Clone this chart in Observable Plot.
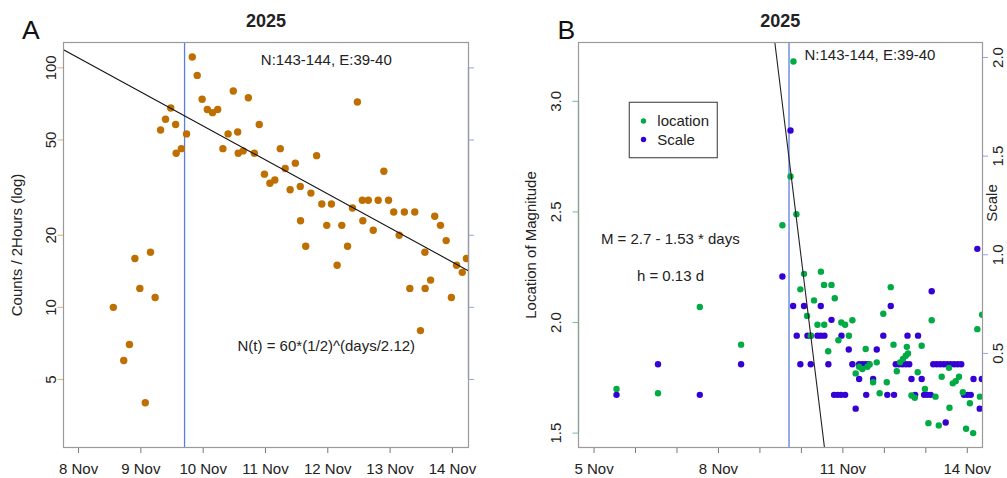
<!DOCTYPE html>
<html><head><meta charset="utf-8">
<script src="https://cdn.jsdelivr.net/npm/d3@7"></script>
<script src="https://cdn.jsdelivr.net/npm/@observablehq/plot@0.6"></script>
<style>
body{margin:0;background:#fff;}
#wrap{position:relative;width:1007px;height:478px;overflow:hidden;background:#fff;}
#a{position:absolute;left:0;top:0;}
#b{position:absolute;left:500px;top:0;}
</style></head><body><div id="wrap"><div id="a"></div><div id="b"></div></div>
<script>
// ---------- Panel A data: counts per 2 hours (hours since 8 Nov 2025 00:00 UTC)
const countHours = [13.4,17.4,19.6,21.7,23.6,25.7,27.7,29.5,31.6,33.5,35.5,37.4,37.6,39.6,41.6,
  43.8,45.7,47.6,49.6,51.6,53.6,55.6,57.6,59.6,61.3,61.5,63.4,65.4,67.7,69.6,71.6,73.7,75.6,77.7,79.6,
  81.5,83.5,85.4,85.5,87.5,89.5,91.7,93.7,95.6,97.4,99.6,101.4,103.6,105.5,107.4,109.3,109.5,111.6,113.5,115.4,
  117.6,119.4,121.4,123.5,125.5,127.6,129.5,131.7,133.4,133.5,135.6,137.2,139.4,141.6,143.6,145.6,147.8,149.4];
const counts = [10,6,7,16,12,4,17,11,55,61,68,58,44,46,53,
  111,93,74,67,65,67,46,53,80,54,44,45,75,44,58,36,33,34,46,38,
  31,40,32,23,18,30,43,27,22,27,15,22,18,26,72,28,23,28,21,28,
  37,28,25,20,25,12,25,8,17,12,13,24,22,19,11,15,14,16];
const countTicks = [100, 50, 20, 10, 5];
const dayLabelsA = ["8 Nov","9 Nov","10 Nov","11 Nov","12 Nov","13 Nov","14 Nov"];

// ---------- Panel B data (hours since 5 Nov 2025 00:00 UTC)
const scaleHours = [13.0,37.0,61.2,85.1,109.0,113.7,115.2,117.3,119.4,121.5,123.5,125.4,125.4,129.3,131.2,131.2,
  133.3,135.6,137.4,138.9,140.9,142.9,143.2,145.3,147.4,149.5,151.4,153.4,153.4,155.3,157.2,157.5,159.1,161.5,
  163.6,167.4,169.7,171.7,173.6,174.6,176.5,178.5,180.5,181.4,182.4,183.7,185.8,187.5,189.6,191.0,192.9,194.8,
  195.4,196.3,198.3,200.3,202.4,203.5,204.4,206.4,208.5,210.5,212.5,214.1,216.1,218.0,219.6,221.8,223.2,224.4];
const scaleValues = [0.29,0.445,0.29,0.445,0.89,1.63,0.74,0.59,0.445,0.74,0.59,0.59,0.445,0.59,0.74,0.59,
  0.59,0.445,0.67,0.29,0.29,0.29,0.59,0.29,0.52,0.445,0.22,0.37,0.445,0.445,0.445,0.29,0.445,0.37,
  0.52,0.59,0.29,0.74,0.29,0.445,0.445,0.445,0.445,0.59,0.445,0.37,0.29,0.59,0.37,0.29,0.29,0.29,
  0.815,0.445,0.445,0.445,0.445,0.15,0.445,0.445,0.445,0.445,0.445,0.29,0.29,0.29,0.37,1.03,0.22,0.37];
const locHours = [13.0,37.0,61.2,85.1,109.0,113.7,115.4,117.1,119.4,121.5,123.3,125.4,127.3,129.3,131.3,133.1,
  133.2,135.5,137.4,139.3,141.4,143.1,145.3,147.5,149.5,151.4,153.4,155.3,157.2,158.2,159.5,161.5,163.6,165.3,
  167.4,169.4,171.7,173.3,175.2,177.1,178.8,180.4,181.0,181.7,183.7,185.6,187.3,189.6,191.5,193.5,195.4,197.6,
  199.5,201.2,205.4,205.7,207.6,209.3,211.2,213.4,215.3,217.5,219.4,221.8,223.3,224.6];
const locValues = [1.70,1.68,2.07,1.90,2.44,2.66,3.18,2.49,2.15,2.22,2.03,1.94,2.10,1.99,2.23,2.17,
  1.99,1.87,2.17,2.11,1.92,2.00,1.99,1.94,2.01,1.77,1.80,1.79,1.88,1.80,1.81,1.73,1.82,1.68,
  2.04,1.73,2.16,1.90,1.78,1.82,1.835,1.85,1.89,1.86,1.67,1.66,1.775,1.895,1.70,1.545,2.01,1.665,
  1.535,1.755,1.795,1.615,1.725,1.735,1.755,1.685,1.52,1.635,1.50,1.97,1.665,2.035];
const locTicks = [1.5, 2.0, 2.5, 3.0];
const scaleTicks = [0.5, 1.0, 1.5, 2.0];
const dayLabelsB = ["5 Nov","8 Nov","11 Nov","14 Nov"];
const legendLabels = ["location", "Scale"];

// ---------- common
const H = 3600e3, D = 86400e3;
const baseA = Date.UTC(2025,10,8), baseB = Date.UTC(2025,10,5);
const onset = new Date(Date.UTC(2025,10,9,16,50));
const fitOriginA = Date.UTC(2025,10,9,20,30);
const fitOriginB = Date.UTC(2025,10,9,17,30);
const FONT = "'Liberation Sans', Arial, Helvetica, sans-serif";
const ORANGE = "#BF6F00", GREEN = "#00AA44", PURPLE = "#3500D5", VBLUE = "#5B7FE0";
const FRAME = "#9a9a9a", TXT = "#222";
const fmt1 = d3.format(".1f");
const CENTER = {textAnchor: "middle", lineAnchor: "middle"};

function pxText(m, str, x, y, opts = {}) {
  return Plot.text([str], {text: d => d, frameAnchor: "top-left", dx: x - m.l, dy: y - m.t, fill: TXT, ...CENTER, ...opts});
}

// ---------- Panel A
const mA = {l: 63, t: 42, r: 35, b: 31};
const xDomA = [new Date(baseA - 5.8*H), new Date(baseA + 150.2*H)];
const yDomA = [2.6, 127.6];
const countData = countHours.map((h, i) => ({t: new Date(baseA + h*H), n: counts[i]}));
const fitA = xDomA.map(t => ({t, n: 60*Math.pow(0.5, (t - fitOriginA)/(2.12*D))}));
const daysA = dayLabelsA.map((s, i) => new Date(baseA + i*D));

const plotA = Plot.plot({
  width: 503, height: 478, marginLeft: mA.l, marginRight: mA.r, marginTop: mA.t, marginBottom: mA.b,
  style: {fontFamily: FONT, fontSize: "15px", background: "white", color: TXT, overflow: "visible"},
  x: {type: "utc", domain: xDomA},
  y: {type: "log", domain: yDomA},
  marks: [
    Plot.axisX({ticks: daysA, tickFormat: (d) => dayLabelsA[Math.round((d - baseA)/D)], tickSize: 6, tickPadding: 10, label: null, stroke: "#777", fill: TXT}),
    Plot.axisY({anchor: "left", ticks: countTicks, tickSize: 5.5, tickFormat: () => "", label: null, stroke: "#E6AE6E"}),
    Plot.axisY({anchor: "right", ticks: countTicks, tickSize: 5, tickFormat: () => "", label: null, stroke: "#8EA6EA"}),
    Plot.text(countTicks, {y: d => d, text: d => String(d), frameAnchor: "left", dx: -12, rotate: -90, fill: TXT, ...CENTER}),
    Plot.ruleX([xDomA[1]], {y1: 5, y2: 100, stroke: "#7F96E0", strokeWidth: 1.3}),
    Plot.ruleX([onset], {stroke: VBLUE, strokeWidth: 1.3}),
    Plot.dot(countData, {x: "t", y: "n", r: 3.7, fill: ORANGE, stroke: "none", clip: true}),
    Plot.line(fitA, {x: "t", y: "n", stroke: "#111", strokeWidth: 1.1, clip: true}),
    Plot.frame({stroke: FRAME, strokeWidth: 1.2}),
    pxText(mA, "2025", 265.5, 21, {fontWeight: "bold", fontSize: 18}),
    pxText(mA, "A", 30.3, 30, {fontSize: 26.5, fill: "#111"}),
    pxText(mA, "N:143-144, E:39-40", 325.8, 59.3),
    pxText(mA, "N(t) = 60*(1/2)^(days/2.12)", 325.8, 345.6),
    pxText(mA, "Counts / 2Hours (log)", 16.5, 244.5, {rotate: -90})
  ]
});
document.getElementById("a").appendChild(plotA);

// ---------- Panel B
const mB = {l: 78, t: 42, r: 25, b: 31};
const xDomB = [new Date(baseB - 9.0*H), new Date(baseB + 224.8*H)];
const yDomB = [1.435, 3.266];
const scaleDom = [0.023, 2.076];
const sToL = d3.scaleLinear().domain(scaleDom).range(yDomB);
const scaleData = scaleHours.map((h, i) => ({t: new Date(baseB + h*H), v: sToL(scaleValues[i])}));
const locData = locHours.map((h, i) => ({t: new Date(baseB + h*H), v: locValues[i]}));
const fitB = [yDomB[1], yDomB[0]].map(M => ({t: new Date(fitOriginB + (2.7 - M)/1.53*D), v: M}));
const daysB = d3.range(10).map(i => new Date(baseB + i*D));
const labelDayB = d => { const lab = `${d.getUTCDate()} Nov`; return dayLabelsB.includes(lab) ? lab : ""; };

const plotB = Plot.plot({
  width: 507, height: 478, marginLeft: mB.l, marginRight: mB.r, marginTop: mB.t, marginBottom: mB.b,
  style: {fontFamily: FONT, fontSize: "15px", background: "white", color: TXT, overflow: "visible"},
  x: {type: "utc", domain: xDomB},
  y: {type: "linear", domain: yDomB},
  marks: [
    Plot.axisX({ticks: daysB, tickFormat: labelDayB, tickSize: 6, tickPadding: 10, label: null, stroke: "#777", fill: TXT}),
    Plot.axisY({anchor: "left", ticks: locTicks, tickSize: 5.5, tickFormat: () => "", label: null, stroke: "#6CC08E"}),
    Plot.axisY({anchor: "right", ticks: scaleTicks.map(sToL), tickSize: 5, tickFormat: () => "", label: null, stroke: "#8CA6EA"}),
    Plot.text(locTicks, {y: d => d, text: d => fmt1(d), frameAnchor: "left", dx: -22, rotate: -90, fill: TXT, ...CENTER}),
    Plot.text(scaleTicks, {y: d => sToL(d), text: d => fmt1(d), frameAnchor: "right", dx: 16, rotate: -90, fill: TXT, ...CENTER}),
    Plot.ruleX([xDomB[0]], {y1: 1.5, y2: 3.0, stroke: "#6CC08E", strokeWidth: 1.3}),
    Plot.ruleX([onset], {stroke: VBLUE, strokeWidth: 1.3}),
    Plot.dot(scaleData, {x: "t", y: "v", r: 3.2, fill: PURPLE, stroke: "none", clip: true}),
    Plot.dot(locData, {x: "t", y: "v", r: 3.2, fill: GREEN, stroke: "none", clip: true}),
    Plot.line(fitB, {x: "t", y: "v", stroke: "#222", strokeWidth: 1.1, clip: true}),
    Plot.frame({stroke: FRAME, strokeWidth: 1.2}),
    pxText(mB, "2025", 279.7, 21, {fontWeight: "bold", fontSize: 18}),
    pxText(mB, "B", 65.8, 30.5, {fontSize: 26.5, fill: "#111"}),
    pxText(mB, "N:143-144, E:39-40", 304, 55, {textAnchor: "start"}),
    pxText(mB, "M = 2.7 - 1.53 * days", 169.8, 238.5),
    pxText(mB, "h = 0.13 d", 170, 275.5),
    pxText(mB, "Location of Magnitude", 31, 244.5, {rotate: -90}),
    pxText(mB, "Scale", 492, 202.5, {rotate: -90})
  ]
});
document.getElementById("b").appendChild(plotB);

// legend box (pixel placement inside panel B)
const svgB = d3.select(plotB);
const lg = svgB.append("g").attr("font-family", FONT).attr("font-size", 15).attr("fill", TXT).attr("text-anchor", "start");
lg.append("rect").attr("x", 129.3).attr("y", 102.3).attr("width", 88).attr("height", 55.4)
  .attr("fill", "white").attr("stroke", "#555").attr("stroke-width", 1.2);
[[GREEN, 121], [PURPLE, 139.5]].forEach(([c, y], i) => {
  lg.append("circle").attr("cx", 143.5).attr("cy", y).attr("r", 2.7).attr("fill", c);
  lg.append("text").attr("x", 157.3).attr("y", y).attr("dy", "0.35em").text(legendLabels[i]);
});
</script>
</body></html>
